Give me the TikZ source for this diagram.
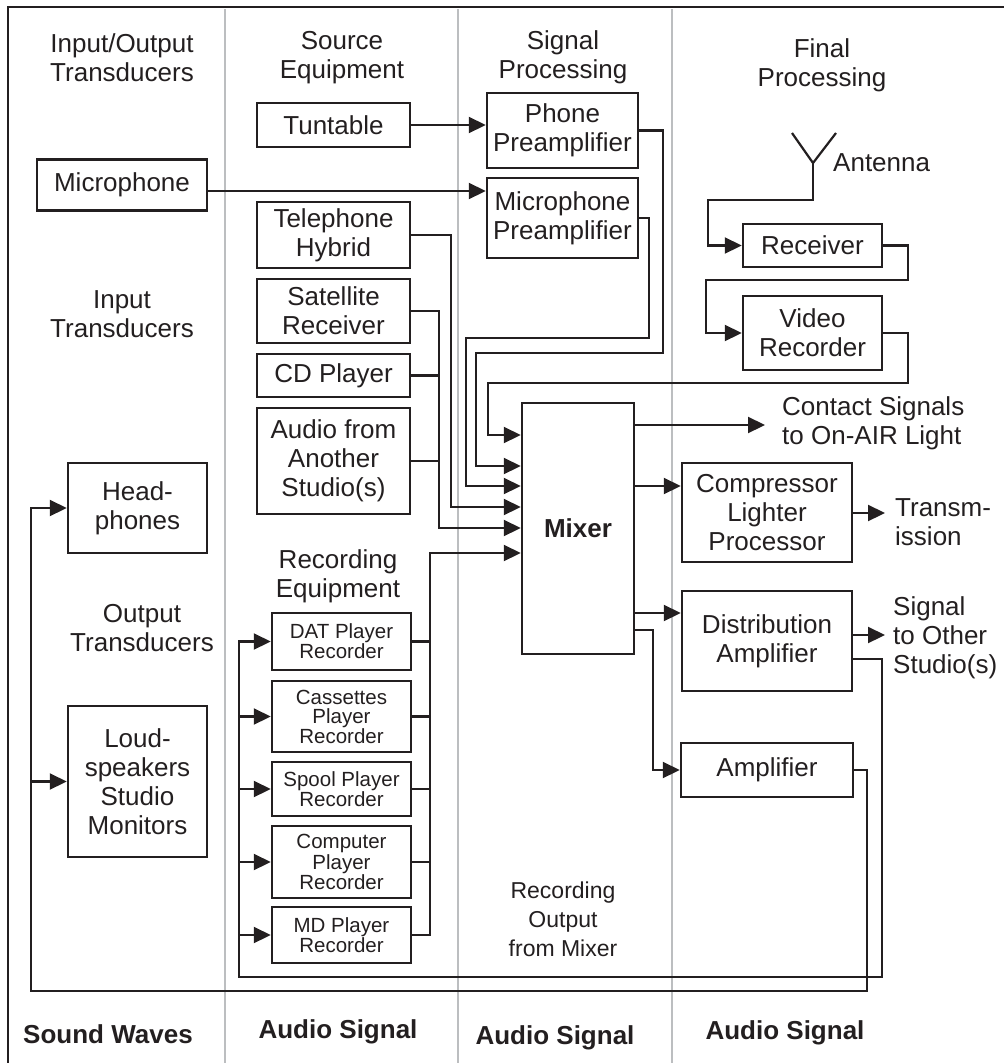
\documentclass[tikz,border=0pt]{standalone}
\usepackage{fontspec}
\setmainfont{Liberation Sans}
\usetikzlibrary{arrows.meta}

\definecolor{ink}{HTML}{231F20}
\definecolor{rulegray}{HTML}{BCBEC0}

\tikzset{
	box/.style={draw=ink,line width=2.5pt,inner sep=0pt,align=center,text=ink,
		font=\fontsize{26}{29}\selectfont},
	smallbox/.style={box,font=\fontsize{20.5}{19}\selectfont},
	txt/.style={inner sep=0pt,align=center,text=ink,font=\fontsize{26}{29}\selectfont},
	foot/.style={txt,font=\fontsize{26}{29}\bfseries\selectfont},
	wire/.style={draw=ink,line width=2.2pt},
	arr/.style={wire,-{Triangle[length=17pt,width=16pt]}},
}

\begin{document}
\begin{tikzpicture}[x=1pt,y=-1pt]
	\useasboundingbox (0,0) rectangle (1004,1063);
	
	% frame and column rules
	\draw[ink,line width=2.5pt] (8,1063) -- (8,7) -- (1004,7);
	\foreach \x in {225,458,672}
		\draw[rulegray,line width=2pt] (\x,9) -- (\x,1063);
	
	\begin{scope}[every node/.style={box}]
		\node[minimum width=170pt,minimum height=51pt] (mic) at (122,185) {Microphone};
		\node[minimum width=139pt,minimum height=90pt] (head) at (137.5,508) {Head-\\phones};
		\node[minimum width=139pt,minimum height=151pt] (loud) at (137.5,781.5) {Loud-\\speakers\\Studio\\Monitors};
		
		\node[minimum width=153pt,minimum height=44pt] (turn) at (333.5,125) {Tuntable};
		\node[minimum width=153pt,minimum height=66pt] (tel) at (333.5,235) {Telephone\\Hybrid};
		\node[minimum width=153pt,minimum height=64pt] (sat) at (333.5,311) {Satellite\\Receiver};
		\node[minimum width=153pt,minimum height=43pt] (cd) at (333.5,375.5) {CD Player};
		\node[minimum width=153pt,minimum height=106pt] (aud) at (333.5,461) {Audio from\\Another\\Studio(s)};
		
		\node[minimum width=151pt,minimum height=75pt] (phone) at (562.5,130.5) {Phone\\Preamplifier};
		\node[minimum width=151pt,minimum height=80pt] (micpre) at (562.5,218) {Microphone\\Preamplifier};
		\node[minimum width=112pt,minimum height=251pt] (mixer) at (578,528.5) {\textbf{Mixer}};
		
		\node[minimum width=139pt,minimum height=43pt] (recv) at (812.5,245.5) {Receiver};
		\node[minimum width=139pt,minimum height=74pt] (video) at (812.5,333) {Video\\Recorder};
		\node[minimum width=170pt,minimum height=99pt] (comp) at (767,512.5) {Compressor\\Lighter\\Processor};
		\node[minimum width=170pt,minimum height=100pt] (dist) at (767,641) {Distribution\\Amplifier};
		\node[minimum width=172pt,minimum height=54pt] (amp) at (767,770) {Amplifier};
	\end{scope}
	
	\begin{scope}[every node/.style={smallbox,minimum width=139pt}]
		\node[minimum height=57pt] (dat) at (341.5,641.5) {DAT Player\\Recorder};
		\node[minimum height=71pt] (cas) at (341.5,716.5) {Cassettes\\Player\\Recorder};
		\node[minimum height=54pt] (spool) at (341.5,789) {Spool Player\\Recorder};
		\node[minimum height=72pt] (cpu) at (341.5,862) {Computer\\Player\\Recorder};
		\node[minimum height=56pt] (md) at (341.5,935) {MD Player\\Recorder};
	\end{scope}
	
	% headings and free labels
	\node[txt] (hio) at (122,57.5) {Input/Output\\Transducers};
	\node[txt] (hsrc) at (342,57.5) {Source\\Equipment};
	\node[txt] (hsig) at (563,57.5) {Signal\\Processing};
	\node[txt] (hfin) at (822,65) {Final\\Processing};
	\node[txt] (hin) at (122,314.5) {Input\\Transducers};
	\node[txt] (hout) at (142,628.5) {Output\\Transducers};
	\node[txt] (hrec) at (338,576) {Recording\\Equipment};
	\node[txt,font=\fontsize{23}{29}\selectfont] (recout) at (563,919) {Recording\\Output\\from Mixer};
	\node[txt,anchor=west] (antl) at (833,163) {Antenna};
	\node[txt,anchor=west,align=left] (light) at (782,423) {Contact Signals\\to On-AIR Light};
	\node[txt,anchor=west,align=left] (trans) at (895,522) {Transm-\\ission};
	\node[txt,anchor=west,align=left] (other) at (893,637.5) {Signal\\to Other\\Studio(s)};
	
	\node[foot] (fsw) at (108,1034) {Sound Waves};
	\node[foot] (fa1) at (338,1032) {Audio Signal};
	\node[foot] (fa2) at (555,1038) {Audio Signal};
	\node[foot] (fa3) at (785,1033) {Audio Signal};
	
	\coordinate (ant) at (813,163);
	\coordinate (lightin) at (765,425);
	\coordinate (transin) at (885,513);
	\coordinate (otherin) at (885,635);
	
	% antenna chain
	\draw[wire] (792,133) -- (ant) -- (836,133);
	\draw[arr] (ant) |- (708,200) |- (recv.west);
	\draw[arr] (recv.east) -| (908,280) -| (706,333) -- (video.west);
	\draw[arr] (video.east) -| (908,383) -| (488,435) -- (mixer.west |- 0,435);
	
	% sources into preamps and mixer
	\draw[arr] (turn.east) -- (turn.east -| phone.west);
	\draw[arr] ([yshift=-6pt]mic.east) -- ([yshift=-6pt]mic.east -| micpre.west);
	\draw[arr] (phone.east) -| (663,353) -| (476,466) -- (mixer.west |- 0,466);
	\draw[arr] (micpre.east) -| (649,338) -| (466,486) -- (mixer.west |- 0,486);
	\draw[arr] (tel.east) -| (451,507) -- (mixer.west |- 0,507);
	\draw[arr] (sat.east) -| (439,528) -- (mixer.west |- 0,528);
	\draw[wire] (cd.east) -- (cd.east -| 439,0);
	\draw[wire] (aud.east) -- (aud.east -| 439,0);
	\draw[arr] (md.east) -| (430,553) -- (mixer.west |- 0,553);
	\foreach \n in {dat,cas,spool,cpu}
		\draw[wire] (\n.east) -- (\n.east -| 430,0);
	
	% mixer outputs
	\draw[arr] (mixer.east |- lightin) -- (lightin);
	\draw[arr] (mixer.east |- 0,486) -- (comp.west |- 0,486);
	\draw[arr] (mixer.east |- 0,613) -- (dist.west |- 0,613);
	\draw[arr] (mixer.east |- 0,630) -| (653,770) -- (amp.west);
	\draw[arr] (comp.east |- transin) -- (transin);
	\draw[arr] (dist.east |- otherin) -- (otherin);
	
	% loops back to recorders and monitors
	\draw[arr] (dist.east |- 0,659) -| (882,977) -| (239,641.5) -- (dat.west);
	\foreach \n in {cas,spool,cpu,md}
		\draw[arr] (\n.west -| 239,0) -- (\n.west);
	\draw[arr] (amp.east) -| (867,991) -| (31,508) -- (head.west);
	\draw[arr] (loud.west -| 31,0) -- (loud.west);
\end{tikzpicture}
\end{document}
